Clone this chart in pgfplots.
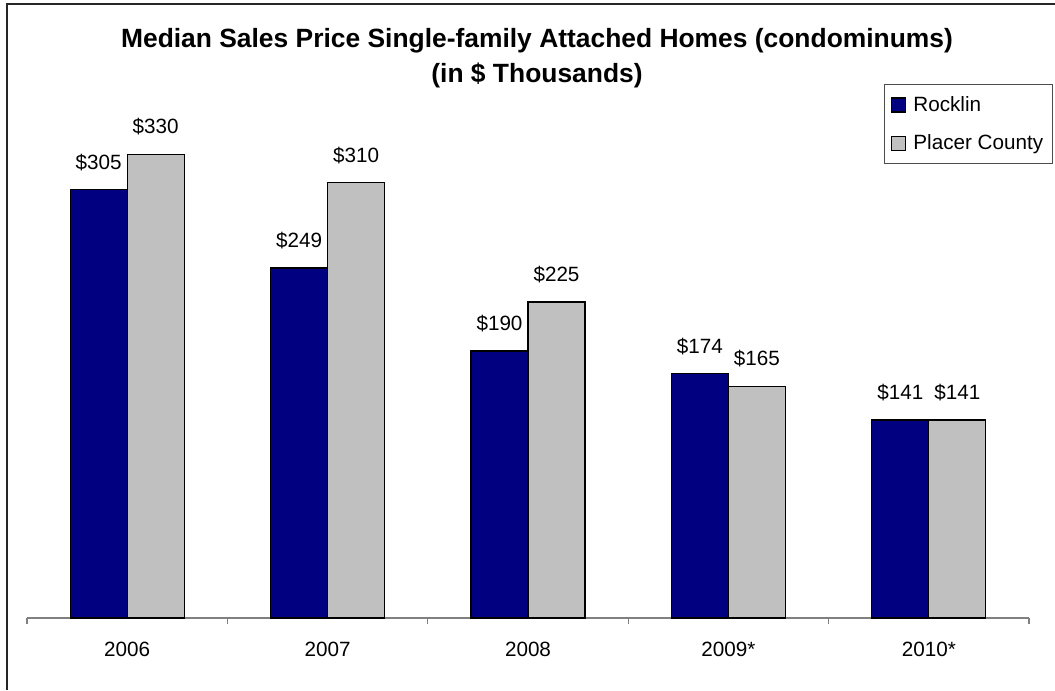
\documentclass[border=0pt]{standalone}
\usepackage{fontspec}
\setmainfont{Liberation Sans}
\usepackage{pgfplots}
\pgfplotsset{compat=1.18}
\definecolor{navyb}{HTML}{000080}
\definecolor{grayb}{HTML}{C0C0C0}
\definecolor{axgray}{HTML}{808080}
\begin{document}
\begin{tikzpicture}
\useasboundingbox (0,0) rectangle (791.25pt,517.5pt);
\draw[line width=1.1pt,black!85] (5.25pt,0pt) -- (5.25pt,514.5pt) -- (791.25pt,514.5pt);
\node[anchor=base,font=\fontsize{19.8}{23}\selectfont\bfseries,inner sep=0pt] at (402.75pt,481.5pt) {Median Sales Price Single-family Attached Homes (condominums)};
\node[anchor=base,font=\fontsize{19.8}{23}\selectfont\bfseries,inner sep=0pt] at (402.75pt,455.25pt) {(in \$ Thousands)};
\begin{axis}[
  at={(20.25pt,54pt)}, anchor=south west,
  scale only axis, width=751.5pt, height=388.5pt,
  ybar=0pt, bar width=42.75pt,
  ymin=0, ymax=368.68,
  xmin=-0.5, xmax=4.5,
  clip=false,
  hide y axis,
  axis x line*=bottom,
  x axis line style={draw=axgray,line width=1pt},
  xtick={0,1,2,3,4},
  xticklabels={2006,2007,2008,2009*,2010*},
  major tick length=0pt,
  xticklabel style={font=\fontsize{15.5}{18}\selectfont, yshift=-14.75pt},
  extra x ticks={-0.5,0.5,1.5,2.5,3.5,4.5},
  extra x tick labels={},
  extra x tick style={major tick length=4.5pt, tick align=outside, tick style={draw=axgray,line width=1pt}},
  /pgf/number format/assume math mode=true,
  nodes near coords={\$\pgfmathprintnumber{\pgfplotspointmeta}},
  every node near coord/.append style={font=\fontsize{15.5}{18}\selectfont, yshift=10.4pt, text=black},
  legend style={at={(1.024,1.031)}, anchor=north east, draw=black!70, line width=0.8pt,
    font=\fontsize{15.5}{18}\selectfont, row sep=12pt, inner xsep=5pt, inner ysep=7pt,
    cells={anchor=west}},
  legend image code/.code={\draw[#1,line width=0.9pt] (0pt,-5.25pt) rectangle (10.5pt,5.25pt); \path (14pt,0pt);},
]
\addplot[fill=navyb, draw=black, line width=1pt] coordinates {(0,305) (1,249) (2,190) (3,174) (4,141)};
\addplot[fill=grayb, draw=black, line width=1pt] coordinates {(0,330) (1,310) (2,225) (3,165) (4,141)};
\legend{Rocklin, Placer County}
\end{axis}
\end{tikzpicture}
\end{document}
